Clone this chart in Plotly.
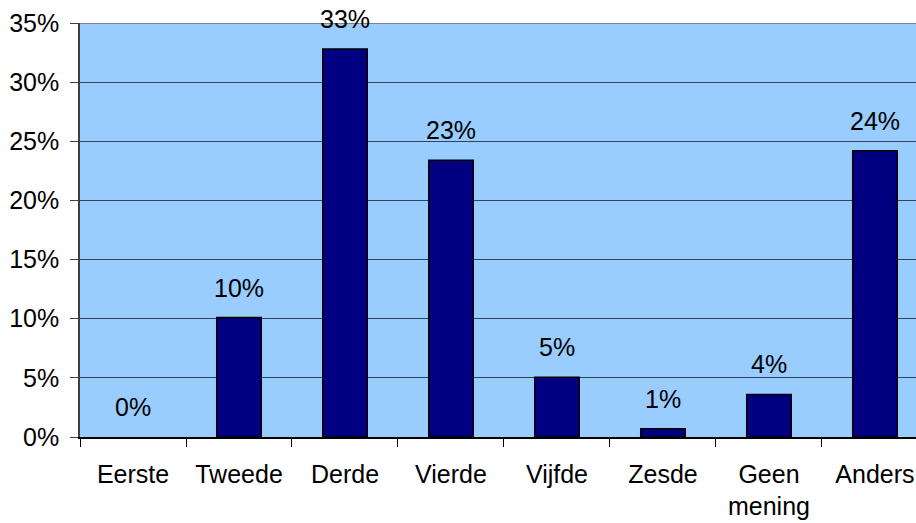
import plotly.graph_objects as go

categories = ["Eerste", "Tweede", "Derde", "Vierde", "Vijfde", "Zesde", "Geen<br>mening", "Anders"]
values = [0.0, 10.1, 32.8, 23.4, 5.05, 0.7, 3.6, 24.2]
ytick_vals = [0, 5, 10, 15, 20, 25, 30, 35]
ytick_text = ["0%", "5%", "10%", "15%", "20%", "25%", "30%", "35%"]

FONT = "Liberation Sans, Arial, sans-serif"
FS = 25
x_idx = list(range(len(categories)))

fig = go.Figure()
fig.add_trace(go.Bar(
    x=x_idx, y=values,
    marker=dict(color="#000080",
                line=dict(color="#000000", width=[0 if v == 0 else 1.5 for v in values])),
    width=0.42,
    hoverinfo="skip",
))

for i, v in zip(x_idx, values):
    fig.add_annotation(
        x=i, y=v, text=f"{round(v)}%", showarrow=False,
        xanchor="center", yanchor="bottom", yshift=14,
        font=dict(family=FONT, size=FS, color="#000000"),
    )

# gray top border of plot area
fig.add_shape(type="line", xref="paper", yref="y", x0=0, x1=1, y0=35, y1=35,
              line=dict(color="#808080", width=2), layer="above")

fig.update_layout(
    width=916, height=523,
    margin=dict(l=80, r=0, t=23, b=86, autoexpand=False),
    paper_bgcolor="#FFFFFF",
    plot_bgcolor="#99CCFF",
    showlegend=False,
    font=dict(family=FONT, size=FS, color="#000000"),
)
fig.update_xaxes(
    range=[-0.5, 7.387], automargin=False,
    tickmode="array", tickvals=x_idx, ticktext=categories,
    showgrid=False, zeroline=False,
    showline=True, linecolor="#000000", linewidth=1.5,
    ticks="", ticklabelstandoff=14,
    tickfont=dict(family=FONT, size=FS, color="#000000"),
)
# category boundary tick marks via minor ticks
fig.update_xaxes(minor=dict(tickmode="array", tickvals=[i - 0.5 for i in x_idx] + [7.5],
                            ticks="outside", ticklen=8, tickcolor="#000000", tickwidth=1))
fig.update_yaxes(
    range=[0, 35], automargin=False,
    tickmode="array", tickvals=ytick_vals, ticktext=ytick_text,
    showgrid=True, gridcolor="#33415a", gridwidth=1,
    zeroline=False,
    showline=True, linecolor="#404040", linewidth=1.5,
    ticks="outside", ticklen=8, tickcolor="#404040", tickwidth=1,
    ticklabelstandoff=6,
    tickfont=dict(family=FONT, size=FS, color="#000000"),
)

fig.write_html("out.html",
               config={"displayModeBar": False},
               post_script="document.body.style.margin='0';document.body.style.overflow='hidden';")
